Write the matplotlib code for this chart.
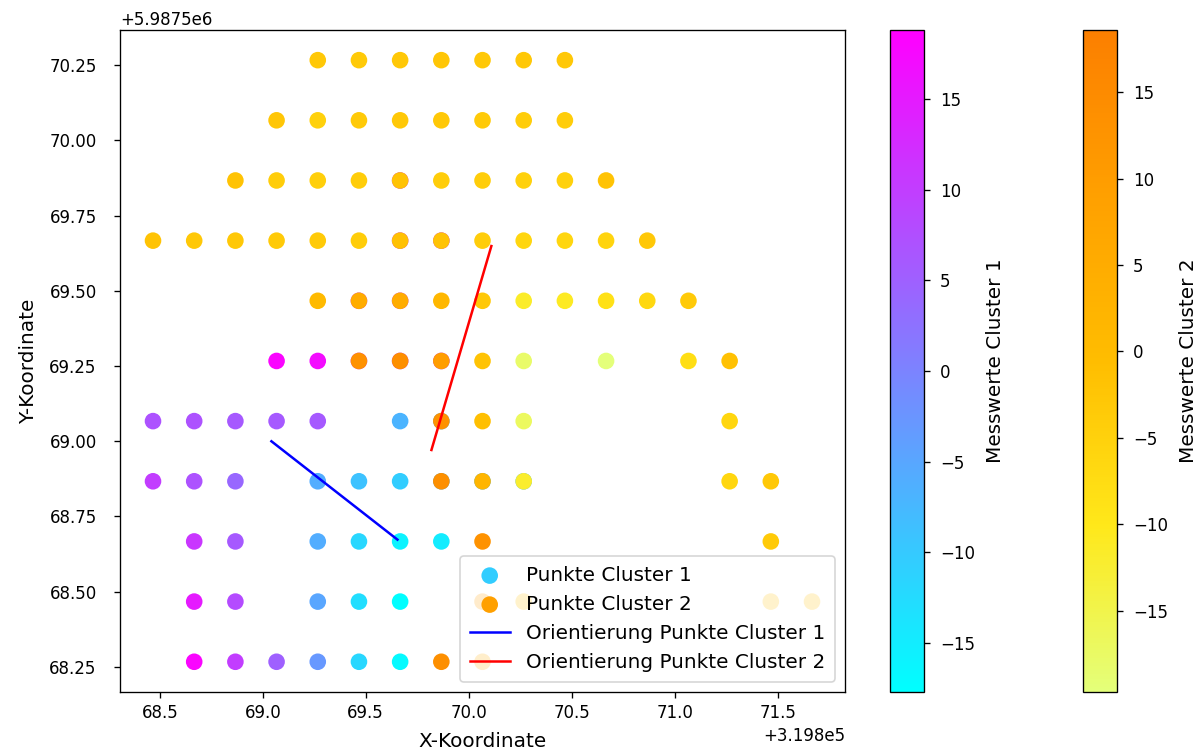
import numpy as np
import matplotlib
matplotlib.use("Agg")
import matplotlib.pyplot as plt

X0 = 319800.0
Y0 = 5987500.0

# Cluster 1 (grid column index, row index, value)
c1_i = [6, 1, 2, 3, 4, 5, 6, 1, 2, 4, 5, 6, 1, 2, 4, 5, 6, 7, 0, 1, 2, 4, 5, 0, 1, 2, 3, 4, 6, 3, 4,
        6, 6, 7, 5, 6, 5, 6, 7, 7, 7, 8, 9]
c1_j = [3, 0, 0, 0, 0, 0, 0, 1, 1, 1, 1, 1, 2, 2, 2, 2, 2, 2, 3, 3, 3, 3, 3, 4, 4, 4, 4, 4, 4, 5, 5,
        8, 7, 7, 6, 6, 5, 5, 5, 4, 3, 3, 3]
c1_v = [-10.5, 18, 10, 5, -3, -12, -17, 15, 8, -5, -13, -17.5, 11, 6, -6, -12, -16, -15, 10, 7, 4, -6, -9,
        7, 7, 6, 6, 6, -7, 18, 17,
        12, 12, 12, 12, 12, 12, 12, 12, -8, -8, -8, -8]

# Cluster 2
c2_i = [8,
        4, 5, 6, 7, 8, 9, 10,
        3, 4, 5, 6, 7, 8, 9, 10,
        2, 3, 4, 5, 6, 7, 8, 9, 10, 11,
        0, 1, 2, 3, 4, 5, 6, 7, 8, 9, 10, 11, 12,
        4, 5, 6, 7, 8, 9, 10, 11, 12, 13,
        5, 6, 7, 8, 9, 11, 13, 14,
        7, 8, 9, 14,
        7, 8, 9, 14, 15,
        8, 15,
        9, 15, 16,
        7, 8]
c2_j = [1,
        10, 10, 10, 10, 10, 10, 10,
        9, 9, 9, 9, 9, 9, 9, 9,
        8, 8, 8, 8, 8, 8, 8, 8, 8, 8,
        7, 7, 7, 7, 7, 7, 7, 7, 7, 7, 7, 7, 7,
        6, 6, 6, 6, 6, 6, 6, 6, 6, 6,
        5, 5, 5, 5, 5, 5, 5, 5,
        4, 4, 4, 4,
        3, 3, 3, 3, 3,
        2, 2,
        1, 1, 1,
        0, 0]
c2_v = [9,
        -3, -3.5, -3, -2.5, -3, -3, -3,
        -2.5, -5, -3.5, -3, -3, -3.5, -4, -4,
        -2, -4, -4.5, -4, -2, -4, -4, -5, -5, -2,
        -2, -3, -3, -3.5, -3.5, -4, -1.5, -2, -4, -6, -6, -5.5, -3,
        0.3, 5, 5, 1.5, -3, -11.5, -11, -8.5, -6.5, -3.5,
        13.5, 14, 10, -2, -18, -20, -8, -1.5,
        13, -1, -17, -6,
        14, 2, -12, -6, -3,
        13, -3.5,
        -2, -2, -2,
        14, 5]

x_grid0 = 68.467
y_grid0 = 68.267
step = 0.2

line1_x = [69.042, 69.654]
line1_y = [69.000, 68.673]
line2_x = [69.819, 70.110]
line2_y = [68.971, 69.649]

c1_range = (-17.72, 18.83)
c2_range = (-19.7, 18.6)

x1 = X0 + x_grid0 + step * np.array(c1_i)
y1 = Y0 + y_grid0 + step * np.array(c1_j)
x2 = X0 + x_grid0 + step * np.array(c2_i)
y2 = Y0 + y_grid0 + step * np.array(c2_j)

fig = plt.figure(figsize=(1197 / 120, 752 / 120), dpi=120)
ax = fig.add_axes([0.1003, 0.080, 0.6056, 0.880])
sc1 = ax.scatter(x1, y1, c=c1_v, cmap='cool', vmin=c1_range[0], vmax=c1_range[1], s=80,
                 label='Punkte Cluster 1')
sc2 = ax.scatter(x2, y2, c=c2_v, cmap='Wistia', vmin=c2_range[0], vmax=c2_range[1], s=80,
                 label='Punkte Cluster 2')
ax.plot(X0 + np.array(line1_x), Y0 + np.array(line1_y), color='blue', lw=1.5,
        label='Orientierung Punkte Cluster 1')
ax.plot(X0 + np.array(line2_x), Y0 + np.array(line2_y), color='red', lw=1.5,
        label='Orientierung Punkte Cluster 2')
ax.tick_params(axis='y', pad=10.5)
ax.set_xlabel('X-Koordinate', fontsize=12, labelpad=6)
ax.set_ylabel('Y-Koordinate', fontsize=12, labelpad=7)
ax.legend(loc='lower right', fontsize=12, borderpad=0.5)

cax1 = fig.add_axes([0.7435, 0.080, 0.0285, 0.880])
cb1 = fig.colorbar(sc1, cax=cax1)
cb1.ax.tick_params(pad=6)
cb1.set_label('Messwerte Cluster 1', fontsize=12, labelpad=6.5)
cax2 = fig.add_axes([0.905, 0.080, 0.0285, 0.880])
cb2 = fig.colorbar(sc2, cax=cax2)
cb2.ax.tick_params(pad=6)
cb2.set_label('Messwerte Cluster 2', fontsize=12, labelpad=6.5)

fig.savefig('out.png', dpi=120)
